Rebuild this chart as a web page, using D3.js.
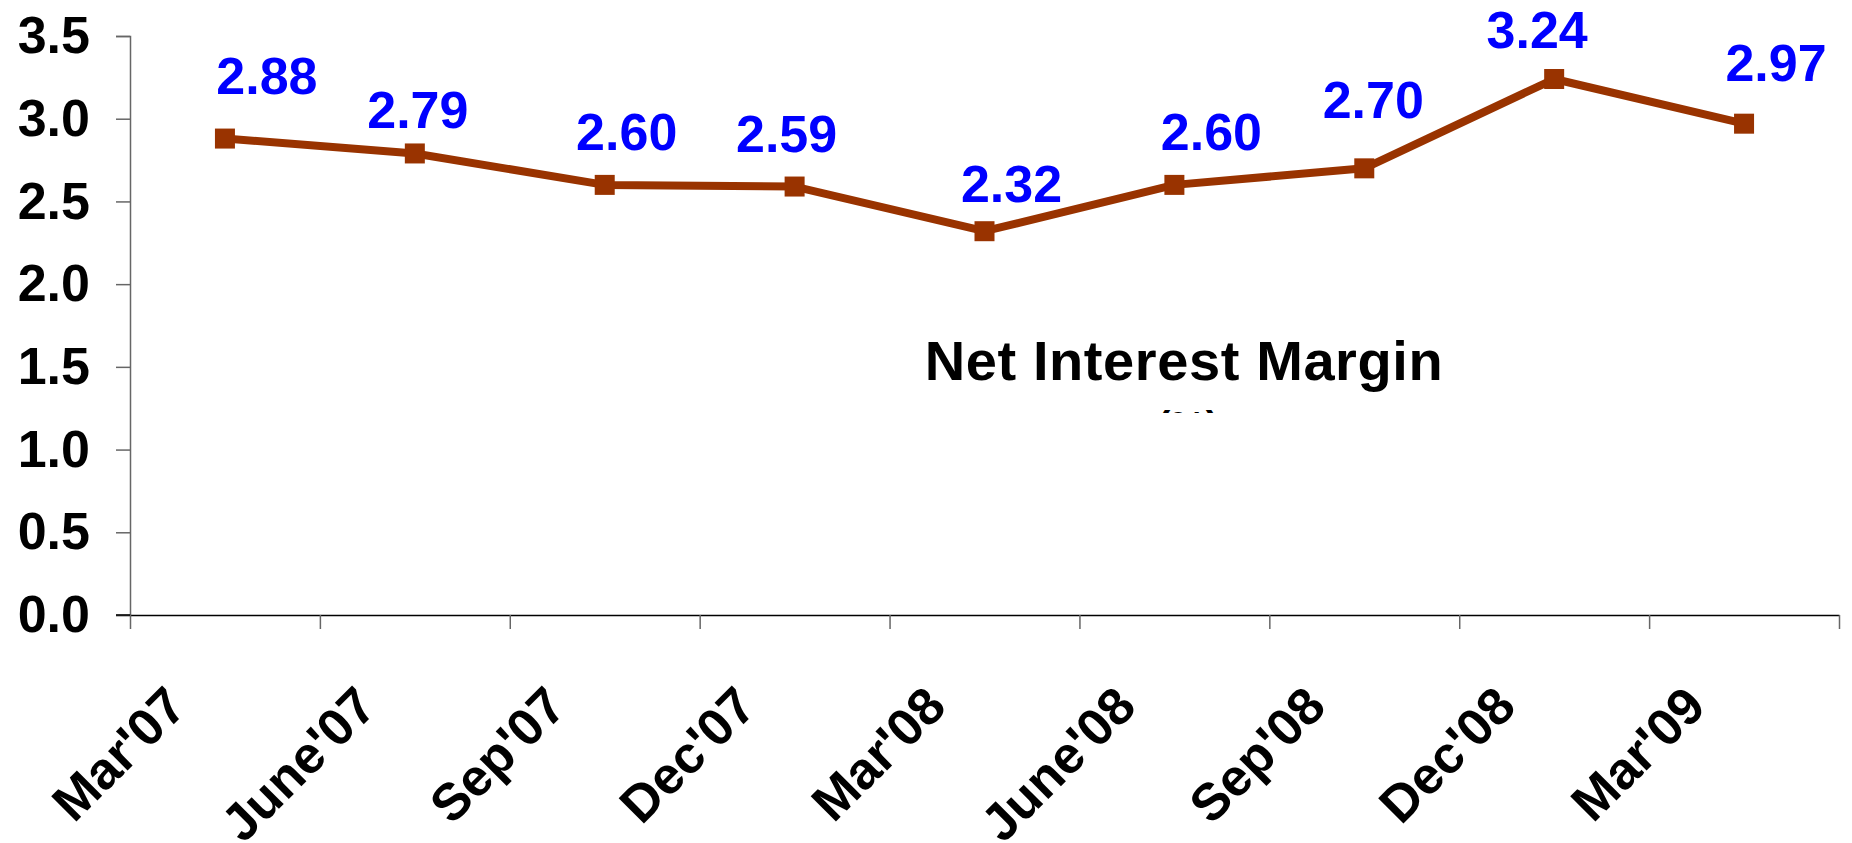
<!DOCTYPE html>
<html>
<head>
<meta charset="utf-8">
<script src="https://cdn.jsdelivr.net/npm/d3@7"></script>
<style>
  body { margin: 0; background: #fff; }
  svg { display: block; font-family: "Liberation Sans", Arial, sans-serif; font-weight: bold; }
</style>
</head>
<body>
<div id="chart"></div>
<script>
// ==========================================================
// DATA
// ==========================================================
var quarters = ["Mar'07", "June'07", "Sep'07", "Dec'07", "Mar'08", "June'08", "Sep'08", "Dec'08", "Mar'09"];
var nim = [2.88, 2.79, 2.60, 2.59, 2.32, 2.60, 2.70, 3.24, 2.97];
var yTicks = [0, 0.5, 1.0, 1.5, 2.0, 2.5, 3.0, 3.5];

// hand-placed label offsets (dx, dy) from each marker, as in the original
var labelNudge = [[42, -45], [3, -25], [22, -35], [-8, -35], [27, -29], [37, -35], [9, -50], [-17, -31], [32, -43]];

// ==========================================================
// SVG + SCALES
// ==========================================================
var svgWidth = 1852;
var svgHeight = 843;

var svg = d3.select("#chart").append("svg")
  .attr("width", svgWidth)
  .attr("height", svgHeight);

var plotLeft = 130, plotRight = 1839, plotTop = 36, plotBottom = 615;

var x = d3.scaleBand().domain(quarters).range([plotLeft, plotRight]).padding(0);
var xEdge = d3.scaleLinear().domain([0, quarters.length]).range([plotLeft, plotRight]);
var y = d3.scaleLinear().domain([0, 3.5]).range([plotBottom, plotTop]);

// ==========================================================
// AXES
// ==========================================================
var yAxis = svg.append("g")
  .attr("transform", `translate(${plotLeft},0)`)
  .call(d3.axisLeft(y).tickValues(yTicks).tickFormat(d3.format(".1f")).tickSize(14).tickPadding(26));

yAxis.select(".domain").attr("stroke", "#666").attr("stroke-width", 1.5);
yAxis.selectAll(".tick line").attr("stroke", "#666").attr("stroke-width", 1.5);
yAxis.selectAll(".tick text")
  .attr("font-size", 52)
  .attr("font-weight", "bold")
  .attr("font-family", "Liberation Sans, Arial, sans-serif")
  .attr("fill", "#000");

var xAxis = svg.append("g")
  .attr("transform", `translate(0,${plotBottom})`)
  .call(d3.axisBottom(xEdge).tickValues(d3.range(quarters.length + 1)).tickFormat("").tickSize(14).tickSizeOuter(0));

xAxis.select(".domain").attr("stroke", "#000").attr("stroke-width", 1.5);
xAxis.selectAll(".tick line").attr("stroke", "#666").attr("stroke-width", 1.5);

// x axis baseline also runs under the y tick at 0
svg.append("line")
  .attr("x1", plotLeft - 14).attr("x2", plotLeft)
  .attr("y1", y(0)).attr("y2", y(0))
  .attr("stroke", "#000").attr("stroke-width", 1.5);

// rotated category labels
svg.append("g").selectAll("text")
  .data(quarters)
  .enter()
  .append("text")
  .attr("transform", d => `translate(${x(d) + x.bandwidth() / 2 - 36},${plotBottom + 94}) rotate(-45)`)
  .attr("text-anchor", "end")
  .attr("font-size", 52)
  .attr("fill", "#000")
  .text(d => d);

// ==========================================================
// LINE + MARKERS + LABELS
// ==========================================================
var pts = quarters.map((q, i) => ({ q: q, v: nim[i], i: i }));

var line = d3.line()
  .x(d => x(d.q) + x.bandwidth() / 2)
  .y(d => y(d.v));

svg.append("path")
  .datum(pts)
  .attr("d", line)
  .attr("fill", "none")
  .attr("stroke", "#993300")
  .attr("stroke-width", 8)
  .attr("stroke-linejoin", "round");

svg.selectAll("rect.marker")
  .data(pts)
  .enter()
  .append("rect")
  .classed("marker", true)
  .attr("x", d => x(d.q) + x.bandwidth() / 2 - 10)
  .attr("y", d => y(d.v) - 10)
  .attr("width", 20)
  .attr("height", 20)
  .attr("fill", "#993300");

svg.selectAll("text.val")
  .data(pts)
  .enter()
  .append("text")
  .classed("val", true)
  .attr("x", d => x(d.q) + x.bandwidth() / 2 + labelNudge[d.i][0])
  .attr("y", d => y(d.v) + labelNudge[d.i][1])
  .attr("text-anchor", "middle")
  .attr("font-size", 52)
  .attr("fill", "#0000ff")
  .text(d => d.v.toFixed(2));

// ==========================================================
// TITLE (with the clipped unit line under it)
// ==========================================================
svg.append("text")
  .attr("x", 1184)
  .attr("y", 380)
  .attr("text-anchor", "middle")
  .attr("font-size", 56)
  .attr("letter-spacing", 0.6)
  .attr("fill", "#000")
  .text("Net Interest Margin");

svg.append("clipPath").attr("id", "unitClip")
  .append("rect").attr("x", 1100).attr("y", 410).attr("width", 200).attr("height", 3);

svg.append("text")
  .attr("clip-path", "url(#unitClip)")
  .attr("x", 1188)
  .attr("y", 440)
  .attr("text-anchor", "middle")
  .attr("font-size", 40)
  .attr("fill", "#000")
  .text("(%)");
</script>
</body>
</html>
